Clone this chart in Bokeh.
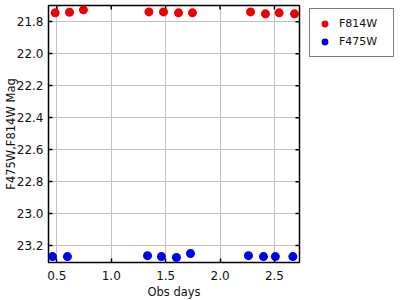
import math
from bokeh.plotting import figure
from bokeh.models import (Range1d, FixedTicker, PrintfTickFormatter, Legend, LegendItem)
from bokeh.embed import file_html
from bokeh.resources import INLINE

# Data
f814_days = [0.484, 0.616, 0.744, 1.346, 1.480, 1.618, 1.746, 2.280, 2.417, 2.543, 2.684]
f814_mag = [21.744, 21.740, 21.725, 21.738, 21.738, 21.744, 21.744, 21.738, 21.750, 21.744, 21.750]
f475_days = [0.460, 0.597, 1.333, 1.461, 1.599, 1.728, 2.261, 2.399, 2.508, 2.669]
f475_mag = [23.269, 23.269, 23.263, 23.269, 23.275, 23.250, 23.263, 23.269, 23.269, 23.269]
series_names = ["F814W", "F475W"]
x_ticks = [0.5, 1.0, 1.5, 2.0, 2.5]
y_ticks = [21.8, 22.0, 22.2, 22.4, 22.6, 22.8, 23.0, 23.2]
x_lim = (0.423, 2.73)
y_lim = (23.306, 21.698)

FONT = "DejaVu Sans"

p = figure(frame_width=251, frame_height=257, output_backend="svg", toolbar_location=None,
           x_range=Range1d(*x_lim), y_range=Range1d(*y_lim),
           min_border_left=48, min_border_right=101, min_border_top=5, min_border_bottom=38,
           x_axis_label="Obs days", y_axis_label="F475W,F814W Mag")

p.outline_line_color = "black"
p.outline_line_width = 1.5

p.xaxis.ticker = FixedTicker(ticks=x_ticks)
p.yaxis.ticker = FixedTicker(ticks=y_ticks)
p.xgrid.ticker = FixedTicker(ticks=x_ticks)
p.ygrid.ticker = FixedTicker(ticks=y_ticks)
p.xaxis.formatter = PrintfTickFormatter(format="%.1f")
p.yaxis.formatter = PrintfTickFormatter(format="%.1f")
for g in (p.xgrid, p.ygrid):
    g.grid_line_color = "#c0c0c0"
    g.grid_line_width = 1

for ax in p.axis:
    ax.axis_line_color = None
    ax.major_tick_in = 4
    ax.major_tick_out = 0
    ax.major_tick_line_color = "black"
    ax.major_tick_line_width = 1.5
    ax.minor_tick_line_color = None
    ax.major_label_text_font = FONT
    ax.axis_label_text_font = FONT
    ax.axis_label_text_font_style = "normal"
    ax.major_label_text_color = "#111111"
    ax.axis_label_text_color = "#111111"
    ax.major_label_text_font_size = "12px"
    ax.axis_label_text_font_size = "11.5px"

xa = p.below[0]
xa.major_label_standoff = 8
xa.axis_label_standoff = 2
ya = p.left[0]
ya.major_label_standoff = 5
ya.axis_label_standoff = -4

# mirrored inward ticks on top and right edges
p.scatter(x_ticks, [y_lim[1]] * len(x_ticks), marker="dash", size=8, angle=math.pi / 2,
          line_color="black", line_width=1.5)
p.scatter([x_lim[1]] * len(y_ticks), y_ticks, marker="dash", size=8,
          line_color="black", line_width=1.5)

r1 = p.scatter(f814_days, f814_mag, size=9, color="#ee0000", line_color=None)
r2 = p.scatter(f475_days, f475_mag, size=9, color="#0000ee", line_color=None)

legend = Legend(items=[LegendItem(label=series_names[0], renderers=[r1]),
                       LegendItem(label=series_names[1], renderers=[r2])],
                location=(10, 205), margin=0, padding=6, spacing=1,
                glyph_width=17, glyph_height=17, label_standoff=6, label_width=48,
                label_text_font=FONT, label_text_font_size="11px", label_text_color="#111111",
                border_line_color="black", border_line_width=1.2,
                background_fill_color="white", background_fill_alpha=1.0)
p.add_layout(legend, "right")

open("out.html", "w").write(file_html(p, INLINE))
